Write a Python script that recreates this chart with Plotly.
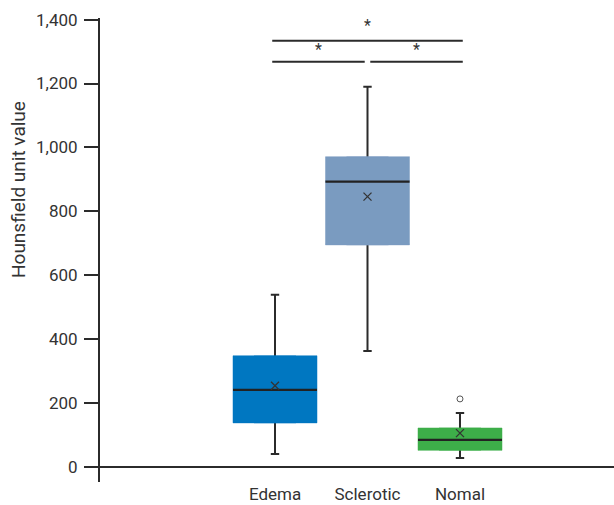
import plotly.graph_objects as go

# ---- data ----
categories = ["Edema", "Sclerotic", "Nomal"]
colors = ["#0077C1", "#7A9BC0", "#3DAE49"]
lower_whisker = [41, 363, 28]
q1 = [138, 695, 52]
median = [241, 893, 85]
q3 = [348, 971, 122]
upper_whisker = [539, 1190, 169]
means = [254, 846, 106]
outlier_cat = ["Nomal"]
outlier_val = [213]

# significance brackets: (from index, to index, bar level, star level)
sig_pairs = [(0, 2, 1334, 1380), (0, 1, 1268, 1305), (1, 2, 1268, 1305)]

yticks = [0, 200, 400, 600, 800, 1000, 1200, 1400]
ytick_text = ["0", "200", "400", "600", "800", "1,000", "1,200", "1,400"]
y_title = "Hounsfield unit value"

FONT = "Roboto, Liberation Sans, sans-serif"
DARK = "#2b2b2b"
TXT = "#333333"
BW = 0.908

fig = go.Figure()

# whiskers (box collapsed at the median so whisker spans full range)
fig.add_trace(go.Box(
    x=categories, q1=median, median=median, q3=median,
    lowerfence=lower_whisker, upperfence=upper_whisker,
    width=BW, whiskerwidth=0.1, fillcolor="rgba(0,0,0,0)",
    line=dict(color=DARK, width=2), hoverinfo="skip", showlegend=False,
))
# coloured boxes, no outline
for c, col, a, b in zip(categories, colors, q1, q3):
    fig.add_trace(go.Box(
        x=[c], q1=[a], median=[a], q3=[b], lowerfence=[a], upperfence=[b],
        width=BW, fillcolor=col, line=dict(color=col, width=0.5),
        hoverinfo="skip", showlegend=False,
    ))
# median lines
fig.add_trace(go.Box(
    x=categories, q1=median, median=median, q3=median,
    lowerfence=median, upperfence=median,
    width=BW, whiskerwidth=0, fillcolor="rgba(0,0,0,0)",
    line=dict(color="#222222", width=2.2), hoverinfo="skip", showlegend=False,
))
# means
fig.add_trace(go.Scatter(
    x=categories, y=means, mode="markers",
    marker=dict(symbol="x-thin", size=8, line=dict(color="#333333", width=1.3)),
    hoverinfo="skip", showlegend=False,
))
# outliers
fig.add_trace(go.Scatter(
    x=outlier_cat, y=outlier_val, mode="markers",
    marker=dict(symbol="circle-open", size=6, color="#555555", line=dict(width=1)),
    hoverinfo="skip", showlegend=False,
))

shapes = [dict(type="line", xref="paper", yref="y", x0=0, x1=1, y0=0, y1=0,
               line=dict(color=DARK, width=2), layer="below")]
annotations = []
for i0, i1, lvl, star in sig_pairs:
    gap = 0.06 if (i1 - i0) == 1 else 0
    left = i0 - 0.03 + (gap if i0 == 1 else 0)
    right = i1 + 0.03 - (gap if i1 == 1 else 0)
    shapes.append(dict(type="line", xref="x", yref="y", x0=left, x1=right,
                       y0=lvl, y1=lvl, line=dict(color=DARK, width=2)))
    annotations.append(dict(x=(left + right) / 2, y=star, xref="x", yref="y",
                            text="*", showarrow=False,
                            font=dict(family=FONT, size=16, color=TXT)))
annotations.append(dict(xref="paper", yref="paper", x=(18 - 100) / 514, y=(482 - 190) / 464,
                        text=y_title, showarrow=False, textangle=-90,
                        xanchor="center", yanchor="middle",
                        font=dict(family=FONT, size=19, color=TXT)))

fig.update_layout(
    width=614, height=505,
    margin=dict(l=100, r=0, t=18, b=23, pad=0),
    paper_bgcolor="white", plot_bgcolor="white",
    boxmode="overlay",
    font=dict(family=FONT, size=17, color=TXT),
    shapes=shapes, annotations=annotations,
    xaxis=dict(
        categoryorder="array", categoryarray=categories,
        range=[-1.892, 3.665], showline=False, showgrid=False, zeroline=False,
        ticks="", ticklen=0, tickfont=dict(family=FONT, size=17, color=TXT),
        automargin=False, fixedrange=True,
    ),
    yaxis=dict(
        range=[-47, 1405], tickvals=yticks, ticktext=ytick_text,
        showline=True, linecolor=DARK, linewidth=2,
        ticks="outside", ticklen=14, tickwidth=2, tickcolor=DARK,
        ticklabelstandoff=3,
        showgrid=False, zeroline=False, automargin=False, fixedrange=True,
        tickfont=dict(family=FONT, size=17, color=TXT),
    ),
)

fig.write_html(
    "out.html",
    config={"displayModeBar": False},
    post_script="document.body.style.margin='0';"
                "document.body.style.overflow='hidden';"
                "document.documentElement.style.overflow='hidden';",
)
